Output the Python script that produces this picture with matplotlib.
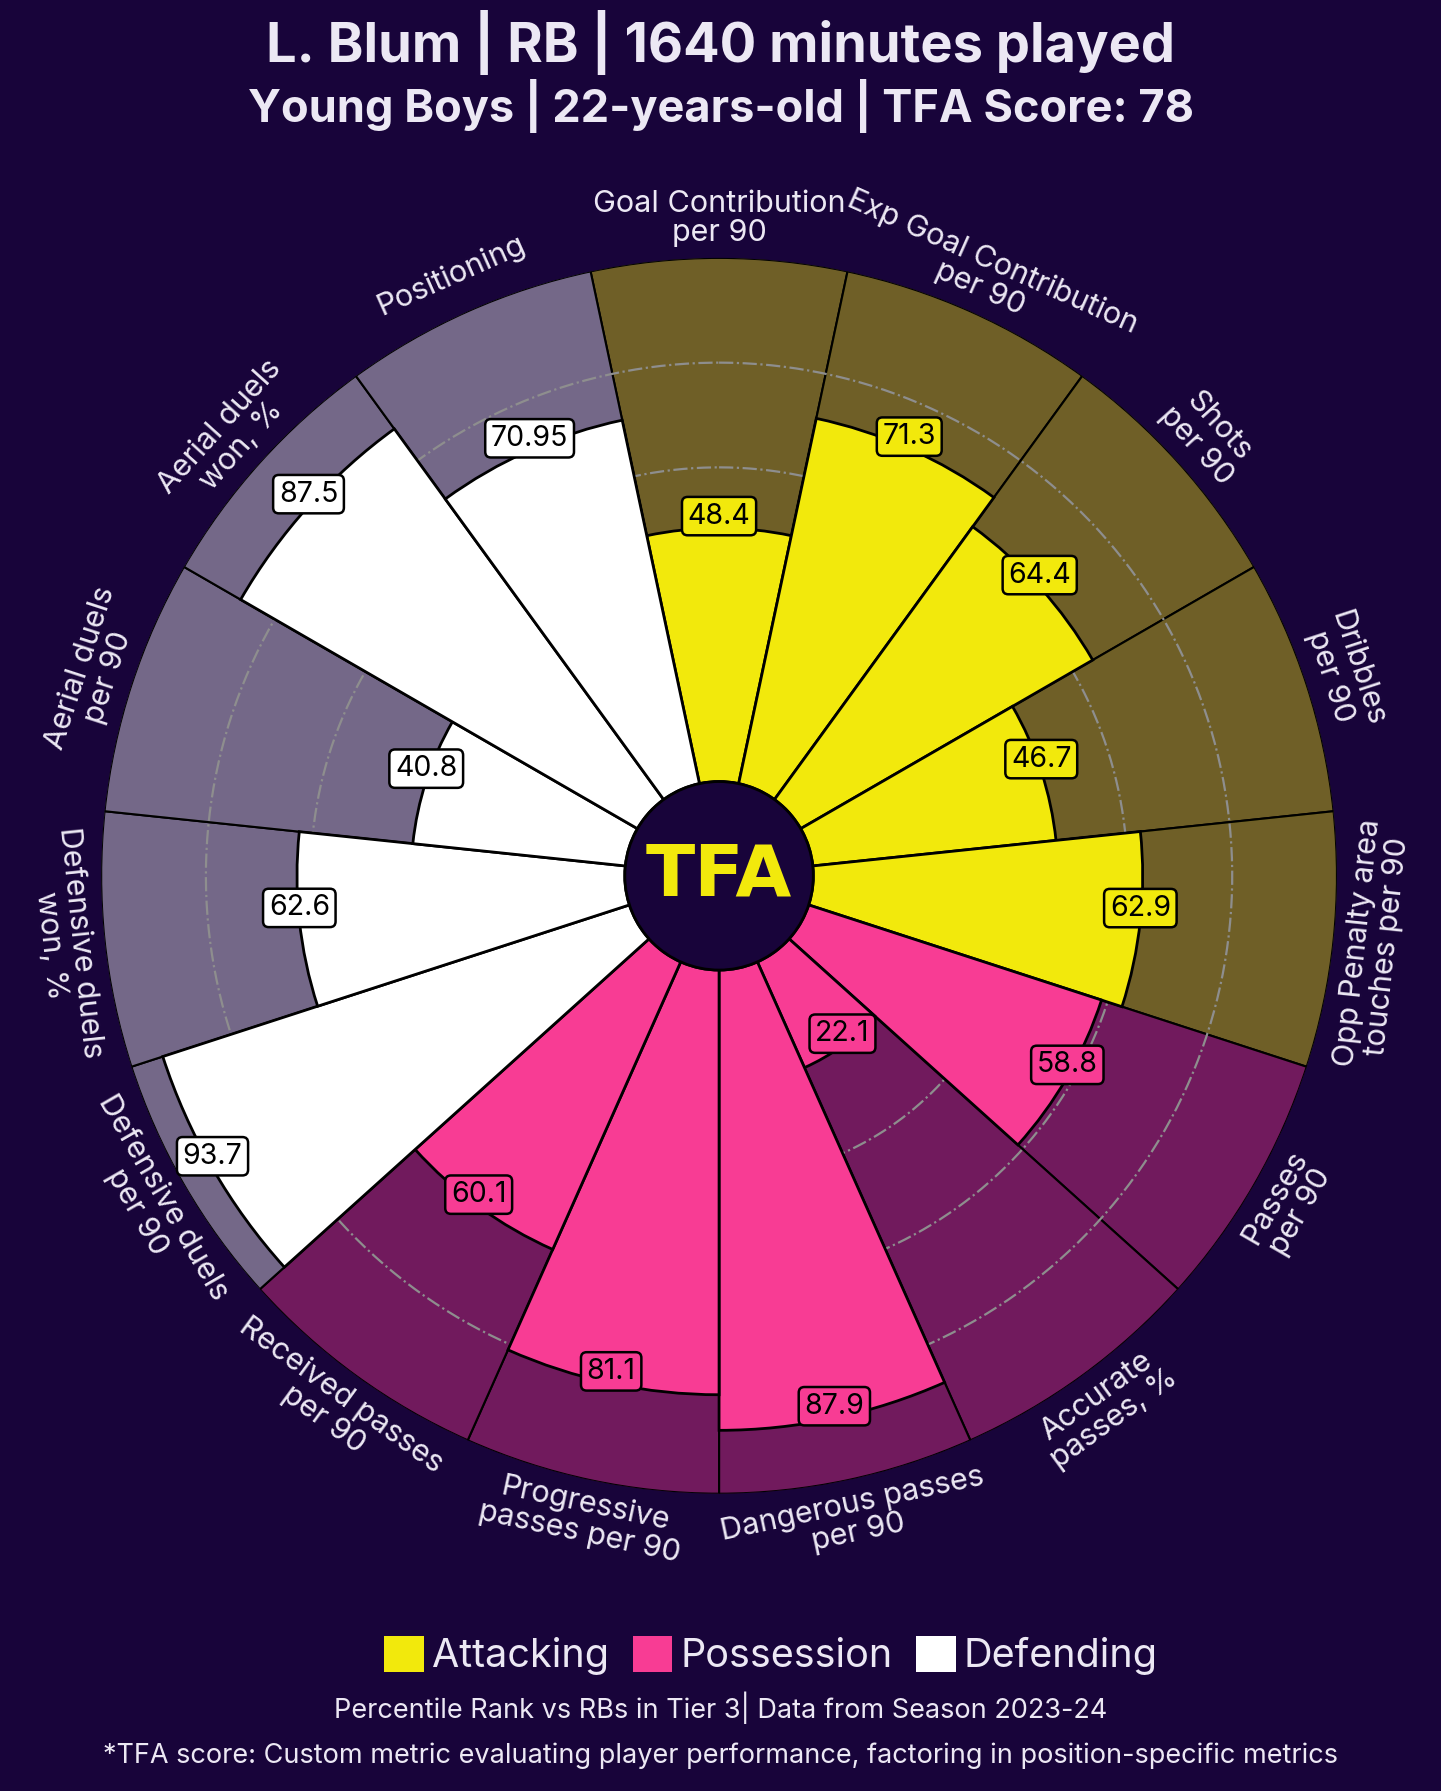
import numpy as np
import matplotlib
matplotlib.use("Agg")
import matplotlib.pyplot as plt
from matplotlib.colors import to_rgba
from matplotlib.patches import Patch, Circle
from matplotlib.transforms import offset_copy

params = ["Goal Contribution\nper 90", "Exp Goal Contribution\nper 90", "Shots\nper 90",
          "Dribbles\nper 90", "Opp Penalty area\ntouches per 90", "Passes\nper 90",
          "Accurate\npasses, %", "Dangerous passes\nper 90", "Progressive\npasses per 90",
          "Received passes\nper 90", "Defensive duels\nper 90", "Defensive duels\nwon, %",
          "Aerial duels\nper 90", "Aerial duels\nwon, %", "Positioning"]
values = [48.4, 71.3, 64.4, 46.7, 62.9, 58.8, 22.1, 87.9, 81.1, 60.1, 93.7, 62.6, 40.8, 87.5, 70.95]
groups = ["Attacking"] * 5 + ["Possession"] * 5 + ["Defending"] * 5

bg = "#18043a"
txt = "#ece8f4"
group_colors = {"Attacking": "#f2e90c", "Possession": "#f83c94", "Defending": "#ffffff"}
colors = [group_colors[g] for g in groups]

plt.rcParams['font.family'] = ['Inter', 'DejaVu Sans']

fig = plt.figure(figsize=(14.41, 17.91), dpi=100, facecolor=bg)
ax = fig.add_axes([0.070, 0.166, 0.858, 0.690], projection='polar')
ax.set_facecolor(bg)
ax.set_theta_zero_location('N')
ax.set_theta_direction(-1)

hole = 18
n = len(params)
angles = np.deg2rad(np.arange(n) * 360 / n)
width = 2 * np.pi / n

# background slices
ax.bar(angles, 100, width=width, bottom=hole, color=[to_rgba(c, 0.4) for c in colors],
       edgecolor='black', linewidth=1.5, zorder=1)

# grid
th = np.linspace(0, 2 * np.pi, 500)
for g in [20, 40, 60, 80]:
    ax.plot(th, np.full_like(th, hole + g), color='#8e8e8e', ls='-.', lw=1.6, zorder=2)

# values
ax.bar(angles, values, width=width, bottom=hole, color=colors,
       edgecolor='black', linewidth=2, zorder=3)

up = offset_copy(ax.transData, fig=fig, y=12, units='dots')
for a, v, c in zip(angles, values, colors):
    ax.text(a, hole + v, str(v), transform=up, ha='center', va='center', fontsize=20.5,
            color='black', zorder=5,
            bbox=dict(boxstyle='round,pad=0.2', fc=c, ec='black', lw=1.8))

for a, p in zip(angles, params):
    d = np.rad2deg(a)
    rot = -d if (d <= 90 or d >= 270) else 180 - d
    ax.text(a, 125.5, p, rotation=rot, rotation_mode='anchor', ha='center', va='center',
            fontsize=22, color=txt, linespacing=1.05)

ax.add_patch(Circle((0.5, 0.5), 0.5 * hole / (100 + hole), transform=ax.transAxes,
                    fc=bg, ec='black', lw=2, zorder=6))
ax.text(0.5, 0.5, "TFA", transform=ax.transAxes, ha='center', va='center',
        fontsize=52, fontweight='heavy', color=group_colors["Attacking"], zorder=7,
        family='DejaVu Sans')

ax.set_ylim(0, 100 + hole)
ax.set_xticks([])
ax.set_yticks([])
ax.grid(False)
ax.spines['polar'].set_visible(False)

fig.text(0.5, 0.976, "L. Blum | RB | 1640 minutes played", ha='center', va='center',
         fontsize=39, fontweight='bold', color=txt)
fig.text(0.5, 0.941, "Young Boys | 22-years-old | TFA Score: 78", ha='center', va='center',
         fontsize=32.5, fontweight='bold', color=txt)

handles = [Patch(facecolor=group_colors[g], edgecolor='none') for g in group_colors]
fig.legend(handles, list(group_colors), loc='center', bbox_to_anchor=(0.535, 0.0755), ncol=3,
           frameon=False, fontsize=28.5, labelcolor=txt, handlelength=1.0, handleheight=1.0,
           handletextpad=0.2, columnspacing=0.6)

fig.text(0.5, 0.0463, "Percentile Rank vs RBs in Tier 3| Data from Season 2023-24",
         ha='center', va='center', fontsize=19.5, color=txt)
fig.text(0.5, 0.0195, "*TFA score: Custom metric evaluating player performance, factoring in position-specific metrics",
         ha='center', va='center', fontsize=19.5, color=txt)

fig.savefig("out.png", dpi=100, facecolor=bg)
